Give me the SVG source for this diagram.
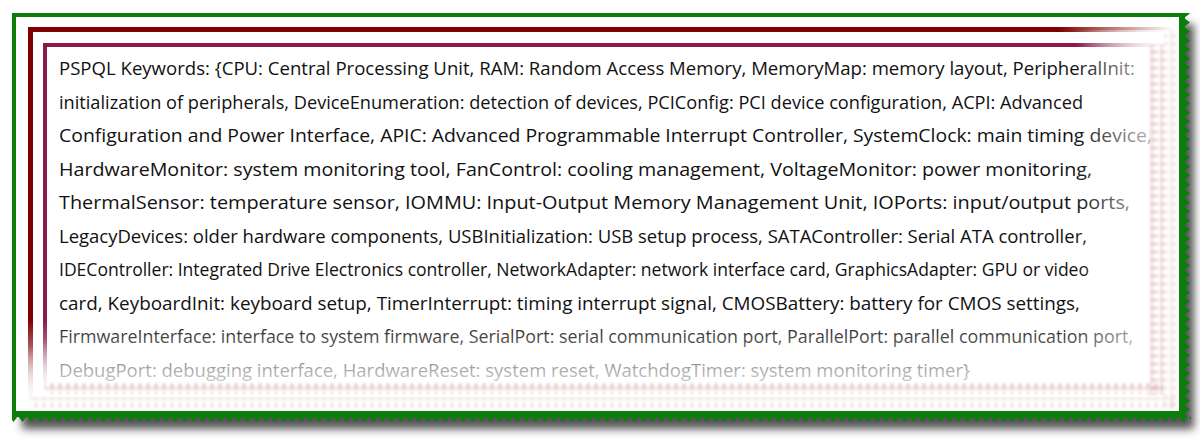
<svg xmlns="http://www.w3.org/2000/svg" width="1200" height="442" viewBox="0 0 1200 442">
<defs>
<filter id="blur" x="-5%" y="-5%" width="110%" height="110%"><feGaussianBlur stdDeviation="4"/></filter>
<filter id="sblur"><feGaussianBlur stdDeviation="1"/></filter>
<pattern id="zR" width="8" height="9" patternUnits="userSpaceOnUse"><polygon points="0,0 6,4.5 0,9" fill="#0a7d0a"/></pattern>
<pattern id="zB" width="9" height="8" patternUnits="userSpaceOnUse"><polygon points="0,0 4.5,6 9,0" fill="#0a7d0a"/></pattern>
<pattern id="pR" width="10" height="8" patternUnits="userSpaceOnUse"><polygon points="0,0 10,4 0,8" fill="#d9a8a8"/></pattern>
<pattern id="pB" width="8" height="10" patternUnits="userSpaceOnUse"><polygon points="0,10 4,0 8,10" fill="#d9a8a8"/></pattern>
<linearGradient id="fadeB" x1="0" y1="0" x2="0" y2="1"><stop offset="0" stop-color="#fff" stop-opacity="0"/><stop offset="0.6" stop-color="#fff" stop-opacity="0.7"/><stop offset="1" stop-color="#fff" stop-opacity="0.95"/></linearGradient>
<linearGradient id="fadeR" x1="0" y1="0" x2="1" y2="0"><stop offset="0" stop-color="#fff" stop-opacity="0"/><stop offset="1" stop-color="#fff" stop-opacity="0.95"/></linearGradient>
<linearGradient id="redH" x1="0" y1="0" x2="1" y2="0"><stop offset="0.9" stop-color="#7f0000"/><stop offset="1" stop-color="#7f0000" stop-opacity="0"/></linearGradient>
<linearGradient id="redV" x1="0" y1="0" x2="0" y2="1"><stop offset="0.85" stop-color="#7f0000"/><stop offset="1" stop-color="#7f0000" stop-opacity="0"/></linearGradient>
<linearGradient id="purH" x1="0" y1="0" x2="1" y2="0"><stop offset="0.92" stop-color="#8b1a4a"/><stop offset="1" stop-color="#8b1a4a" stop-opacity="0"/></linearGradient>
<linearGradient id="purV" x1="0" y1="0" x2="0" y2="1"><stop offset="0.85" stop-color="#8b1a4a"/><stop offset="1" stop-color="#8b1a4a" stop-opacity="0"/></linearGradient>
</defs>
<style>
.t{font-family:"Open Sans","Noto Sans",sans-serif;font-size:19px;fill:#111}
</style>
<rect width="1200" height="442" fill="#fff"/>
<g id="frame">
<rect x="22" y="24" width="1172" height="405" fill="#555" filter="url(#blur)"/>
<rect x="12" y="13" width="1173" height="404" fill="#0a7d0a"/>
<rect x="1185" y="13" width="6" height="404" fill="url(#zR)"/>
<rect x="12" y="417" width="1179" height="6" fill="url(#zB)"/>
<rect x="16" y="17" width="1163" height="394" fill="#fff"/>
<rect x="28" y="27" width="1145" height="5" fill="url(#redH)"/>
<rect x="28" y="27" width="5" height="375" fill="url(#redV)"/>
<rect x="43" y="43" width="1125" height="4" fill="url(#purH)"/>
<rect x="43" y="43" width="4" height="350" fill="url(#purV)"/>
</g>
<g id="text">
<text class="t" x="59" y="75" textLength="1076" lengthAdjust="spacingAndGlyphs">PSPQL Keywords: {CPU: Central Processing Unit, RAM: Random Access Memory, MemoryMap: memory layout, PeripheralInit:</text>
<text class="t" x="59" y="109" textLength="1024" lengthAdjust="spacingAndGlyphs">initialization of peripherals, DeviceEnumeration: detection of devices, PCIConfig: PCI device configuration, ACPI: Advanced</text>
<text class="t" x="59" y="142" textLength="1093" lengthAdjust="spacingAndGlyphs">Configuration and Power Interface, APIC: Advanced Programmable Interrupt Controller, SystemClock: main timing device,</text>
<text class="t" x="59" y="176" textLength="1033" lengthAdjust="spacingAndGlyphs">HardwareMonitor: system monitoring tool, FanControl: cooling management, VoltageMonitor: power monitoring,</text>
<text class="t" x="59" y="209" textLength="1071" lengthAdjust="spacingAndGlyphs">ThermalSensor: temperature sensor, IOMMU: Input-Output Memory Management Unit, IOPorts: input/output ports,</text>
<text class="t" x="59" y="243" textLength="1028" lengthAdjust="spacingAndGlyphs">LegacyDevices: older hardware components, USBInitialization: USB setup process, SATAController: Serial ATA controller,</text>
<text class="t" x="59" y="276" textLength="1030" lengthAdjust="spacingAndGlyphs">IDEController: Integrated Drive Electronics controller, NetworkAdapter: network interface card, GraphicsAdapter: GPU or video</text>
<text class="t" x="59" y="310" textLength="1021" lengthAdjust="spacingAndGlyphs">card, KeyboardInit: keyboard setup, TimerInterrupt: timing interrupt signal, CMOSBattery: battery for CMOS settings,</text>
<text class="t" x="59" y="343" textLength="1074" lengthAdjust="spacingAndGlyphs">FirmwareInterface: interface to system firmware, SerialPort: serial communication port, ParallelPort: parallel communication port,</text>
<text class="t" x="59" y="377" textLength="911" lengthAdjust="spacingAndGlyphs">DebugPort: debugging interface, HardwareReset: system reset, WatchdogTimer: system monitoring timer}</text>
</g>
<g id="fade">
<rect x="1075" y="30" width="104" height="381" fill="url(#fadeR)"/>
<rect x="20" y="320" width="1159" height="91" fill="url(#fadeB)"/>
<rect x="1150" y="45" width="14" height="350" fill="url(#pR)" opacity="0.45" filter="url(#sblur)"/>
<rect x="1164" y="30" width="12" height="380" fill="url(#pR)" opacity="0.25" filter="url(#sblur)"/>
<rect x="45" y="383" width="1118" height="11" fill="url(#pB)" opacity="0.45" filter="url(#sblur)"/>
<rect x="30" y="397" width="1146" height="11" fill="url(#pB)" opacity="0.25" filter="url(#sblur)"/>
</g>
</svg>
